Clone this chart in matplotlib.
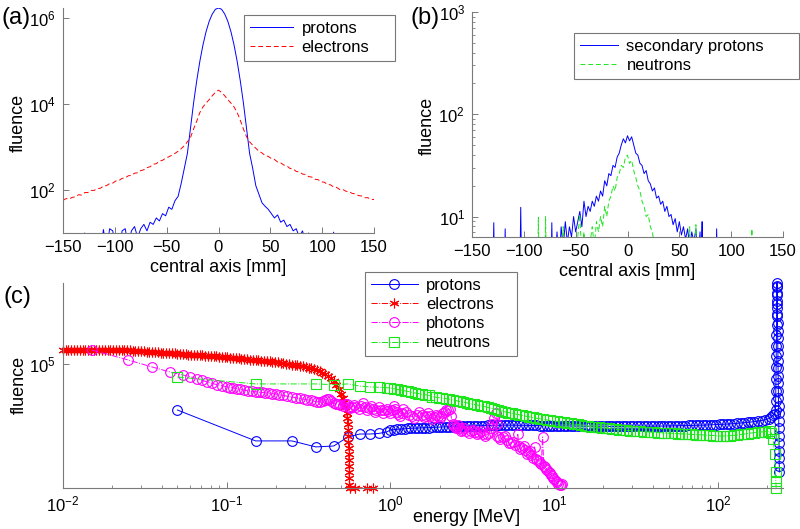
import numpy as np
import matplotlib.pyplot as plt
from matplotlib.ticker import LogLocator, NullLocator, NullFormatter

plt.rcParams['font.family'] = ['Liberation Sans', 'DejaVu Sans']
plt.rcParams['mathtext.fontset'] = 'custom'
plt.rcParams['mathtext.rm'] = 'Liberation Sans'
plt.rcParams['mathtext.default'] = 'regular'

# ---------------- (a) primary protons / electrons along the central axis ----------------
# bin positions [mm]; fluence stored as log10 values
mm_a = np.arange(-150, 151, 3)
protons_a_log = [
    0.5, 0.5, 0.5, 0.5, 0.5, 0.5, 0.5, 1.0, 0.5, 0.5,
    0.5, 0.5, 0.5, 1.08, 0.6, 1.1, 1.05, 0.6, 0.5, 1.05,
    1.1, 0.7, 1.05, 1.15, 0.9, 1.1, 1.2, 1.05, 1.25, 1.2,
    1.35, 1.28, 1.45, 1.4, 1.6, 1.55, 1.75, 1.85, 2.15, 2.5,
    2.85, 3.44, 4.03, 4.54, 4.99, 5.37, 5.68, 5.92, 6.09, 6.2,
    6.23,
    6.2, 6.09, 5.92, 5.68, 5.37, 4.99, 4.54, 4.03, 3.44, 2.85,
    2.5, 2.1, 1.9, 1.7, 1.62, 1.55, 1.45, 1.35, 1.42, 1.25,
    1.3, 1.15, 1.2, 1.05, 1.1, 0.9, 1.05, 0.8, 1.0, 0.6,
    0.5, 0.5, 0.5, 0.5, 0.5, 0.5, 1.02, 0.5, 0.5, 0.5,
    0.5, 0.5, 0.5, 0.5, 0.5, 0.5, 0.5, 0.5, 0.5, 0.5,
]
electrons_a_log = [
    1.76, 1.8, 1.79, 1.83, 1.84, 1.89, 1.88, 1.94, 1.94, 1.99,
    1.99, 2.03, 2.04, 2.09, 2.1, 2.15, 2.16, 2.21, 2.22, 2.27,
    2.28, 2.33, 2.34, 2.39, 2.4, 2.45, 2.47, 2.52, 2.54, 2.6,
    2.61, 2.67, 2.69, 2.74, 2.77, 2.81, 2.85, 2.9, 2.96, 3.03,
    3.12, 3.22, 3.42, 3.6, 3.8, 3.93, 4.02, 4.1, 4.19, 4.27,
    4.32,
    4.27, 4.19, 4.1, 4.02, 3.93, 3.8, 3.62, 3.42, 3.24, 3.12,
    3.04, 2.97, 2.9, 2.86, 2.8, 2.78, 2.73, 2.71, 2.65, 2.63,
    2.58, 2.56, 2.5, 2.49, 2.43, 2.42, 2.37, 2.36, 2.31, 2.3,
    2.25, 2.24, 2.19, 2.18, 2.13, 2.12, 2.07, 2.06, 2.01, 2.01,
    1.97, 1.96, 1.92, 1.91, 1.87, 1.86, 1.82, 1.82, 1.78, 1.78,
]

# ---------------- (b) secondary protons / neutrons ----------------
mm_b_sp = np.arange(-70, 75, 2)
sec_protons_b_log = [
    0.5, 0.85, 0.5, 0.9, 0.7, 0.95, 0.75, 0.9, 0.8, 1.0,
    0.85, 0.95, 1.05, 0.9, 1.15, 1.0, 1.1, 1.05, 1.15, 1.1,
    1.2, 1.15, 1.25, 1.2, 1.35, 1.3, 1.42, 1.4, 1.5, 1.48,
    1.58, 1.62, 1.7, 1.76, 1.72, 1.79, 1.74, 1.78, 1.7, 1.62,
    1.6, 1.52, 1.5, 1.42, 1.45, 1.35, 1.32, 1.25, 1.28, 1.18,
    1.2, 1.12, 1.15, 1.05, 1.1, 1.0, 1.02, 0.92, 0.98, 0.85,
    0.95, 0.82, 0.9, 0.78, 0.88, 0.7, 0.85, 0.75, 0.88, 0.6,
    0.85, 0.5, 0.5,
]
sp_spike_mm = [-129, -118, -103, -73, 72, 86]
sp_spike_log = [0.94, 0.88, 1.09, 0.94, 0.95, 0.88]

mm_b_n = np.arange(-50, 37, 2)
neutrons_b_log = [
    0.5, 0.8, 1.02, 0.6, 0.85, 0.6, 0.8, 0.75, 0.9, 0.7,
    0.95, 0.85, 1.0, 0.9, 1.1, 1.0, 1.15, 1.2, 1.3, 1.25,
    1.38, 1.42, 1.5, 1.48, 1.58, 1.6, 1.52, 1.55, 1.45, 1.38,
    1.3, 1.25, 1.15, 1.1, 1.0, 1.02, 0.9, 0.85, 0.7, 0.78,
    0.6, 0.7, 0.5, 0.5,
]
n_spike_mm = [-86, -79, -62, 60, 66, 120]
n_spike_log = [0.99, 1.0, 0.9, 0.9, 0.92, 0.88]

# ---------------- (c) energy spectra ----------------
e_grid = [1.00, 1.05, 1.10, 1.16, 1.22, 1.28, 1.34, 1.41, 1.48, 1.55,
          1.63, 1.71, 1.80, 1.89, 1.98, 2.08, 2.18, 2.29, 2.41, 2.53,
          2.65, 2.79, 2.93, 3.07, 3.23, 3.39, 3.56, 3.73, 3.92, 4.12,
          4.32, 4.54, 4.76, 5.00, 5.25, 5.52, 5.79, 6.08, 6.39, 6.70,
          7.04, 7.39, 7.76, 8.15, 8.56, 8.99, 9.43, 9.91, 10.4, 10.9,
          11.5, 12.0, 12.6, 13.3, 13.9, 14.6, 15.4, 16.1, 16.9, 17.8,
          18.7, 19.6, 20.6, 21.6, 22.7, 23.8, 25.0, 26.3, 27.6, 29.0,
          30.4, 31.9, 33.5, 35.2, 37.0, 38.8, 40.8, 42.8, 44.9, 47.2,
          49.5, 52.0, 54.6, 57.4, 60.2, 63.2, 66.4, 69.7, 73.2, 76.9,
          80.7, 84.7, 89.0, 93.4, 98.1, 103, 108, 113, 119, 125,
          131, 138, 145, 152, 160, 167, 176, 185, 194, 204,
          212, 218, 222, 225]

protons_e = ([0.05, 0.15, 0.25, 0.35, 0.45, 0.55, 0.65, 0.75, 0.85, 0.95] + e_grid +
             [225.5, 226, 226.5, 227, 227.3, 227.6, 227.9, 228.2, 228.5, 228.8,
              229.1, 229.4, 229.7, 230.0, 230.3, 230.6, 230.9, 231.2, 231.5, 231.8,
              232.1, 232.4, 232.7, 233.0, 233.3, 233.6, 233.9, 234.2, 234.5, 234.8,
              235.1, 235.4, 235.7, 236.0, 236.3, 236.6, 236.9, 237.2, 237.5])
protons_c_log = ([4.693, 4.487, 4.487, 4.447, 4.453, 4.513, 4.533, 4.533, 4.537, 4.547] +
                 [4.560, 4.562, 4.565, 4.566, 4.568, 4.570, 4.571, 4.572, 4.573, 4.574,
                  4.575, 4.575, 4.577, 4.578, 4.579, 4.580, 4.581, 4.582, 4.583, 4.584,
                  4.585, 4.586, 4.586, 4.587, 4.587, 4.588, 4.588, 4.589, 4.590, 4.590,
                  4.590, 4.591, 4.591, 4.592, 4.592, 4.592, 4.592, 4.591, 4.591, 4.591,
                  4.590, 4.590, 4.590, 4.589, 4.589, 4.589, 4.588, 4.588, 4.588, 4.587,
                  4.587, 4.587, 4.586, 4.586, 4.586, 4.586, 4.585, 4.585, 4.585, 4.585,
                  4.585, 4.585, 4.585, 4.584, 4.584, 4.584, 4.584, 4.584, 4.584, 4.584,
                  4.584, 4.585, 4.585, 4.585, 4.585, 4.585, 4.585, 4.586, 4.586, 4.586,
                  4.587, 4.587, 4.588, 4.588, 4.589, 4.589, 4.590, 4.590, 4.591, 4.592,
                  4.592, 4.593, 4.594, 4.595, 4.596, 4.597, 4.598, 4.599, 4.601, 4.602,
                  4.604, 4.606, 4.608, 4.610, 4.613, 4.616, 4.619, 4.623, 4.628, 4.635,
                  4.648, 4.658, 4.668, 4.690] +
                 [4.75, 4.82, 4.9, 4.98, 5.05, 5.12, 5.19, 5.26, 5.33, 5.4,
                  5.46, 5.51, 5.54, 5.52, 5.47, 5.42, 5.37, 5.32, 5.27, 5.22,
                  5.17, 5.12, 5.07, 5.02, 4.97, 4.92, 4.87, 4.82, 4.77, 4.72,
                  4.67, 4.62, 4.57, 4.52, 4.47, 4.42, 4.37, 4.32, 4.28])

electrons_e = [0.0100, 0.0104, 0.0108, 0.0112, 0.0117, 0.0122, 0.0127, 0.0132, 0.0137, 0.0142,
               0.0148, 0.0154, 0.0160, 0.0167, 0.0173, 0.0180, 0.0187, 0.0195, 0.0203, 0.0211,
               0.0219, 0.0228, 0.0237, 0.0247, 0.0256, 0.0267, 0.0277, 0.0288, 0.0300, 0.0312,
               0.0324, 0.0337, 0.0351, 0.0365, 0.0380, 0.0395, 0.0410, 0.0427, 0.0444, 0.0462,
               0.0480, 0.0499, 0.0519, 0.0540, 0.0562, 0.0584, 0.0608, 0.0632, 0.0657, 0.0683,
               0.0711, 0.0739, 0.0769, 0.0800, 0.0832, 0.0865, 0.0900, 0.0936, 0.0973, 0.101,
               0.105, 0.110, 0.114, 0.119, 0.123, 0.128, 0.133, 0.139, 0.144, 0.150,
               0.156, 0.162, 0.169, 0.176, 0.183, 0.190, 0.198, 0.205, 0.214, 0.222,
               0.231, 0.240, 0.250, 0.260, 0.270, 0.281, 0.292, 0.304, 0.316, 0.329,
               0.342, 0.355, 0.370, 0.384, 0.400, 0.416, 0.432, 0.450, 0.468, 0.486,
               0.500, 0.510, 0.520, 0.530, 0.540, 0.545, 0.550, 0.552, 0.553, 0.554,
               0.555, 0.556, 0.557, 0.558, 0.559, 0.560, 0.562, 0.566, 0.610, 0.720, 0.780]
electrons_c_log = [5.093, 5.094, 5.093, 5.094, 5.093, 5.094, 5.093, 5.094, 5.093, 5.094,
                   5.093, 5.094, 5.093, 5.094, 5.093, 5.094, 5.093, 5.094, 5.093, 5.093,
                   5.093, 5.092, 5.092, 5.091, 5.090, 5.089, 5.088, 5.087, 5.085, 5.084,
                   5.083, 5.081, 5.080, 5.079, 5.077, 5.076, 5.075, 5.073, 5.072, 5.071,
                   5.070, 5.068, 5.067, 5.066, 5.064, 5.063, 5.062, 5.060, 5.059, 5.058,
                   5.057, 5.055, 5.054, 5.053, 5.051, 5.050, 5.049, 5.047, 5.046, 5.044,
                   5.042, 5.040, 5.038, 5.037, 5.035, 5.033, 5.031, 5.029, 5.028, 5.026,
                   5.024, 5.022, 5.020, 5.018, 5.017, 5.015, 5.013, 5.011, 5.008, 5.005,
                   5.002, 4.999, 4.996, 4.993, 4.990, 4.987, 4.984, 4.980, 4.975, 4.970,
                   4.964, 4.958, 4.951, 4.943, 4.932, 4.920, 4.905, 4.885, 4.862, 4.835,
                   4.800, 4.775, 4.745, 4.710, 4.670, 4.640, 4.600, 4.560, 4.520, 4.480,
                   4.440, 4.400, 4.360, 4.320, 4.280, 4.240, 4.190, 4.175, 4.175, 4.175, 4.175]

photons_e = [0.015, 0.025, 0.035, 0.045, 0.054, 0.060, 0.066, 0.071, 0.076, 0.081,
             0.087, 0.093, 0.100, 0.105, 0.110, 0.115, 0.120, 0.127, 0.135, 0.142,
             0.150, 0.157, 0.165, 0.172, 0.180, 0.190, 0.200, 0.210, 0.220, 0.235,
             0.250, 0.265, 0.280, 0.295, 0.310, 0.325, 0.340, 0.355, 0.370, 0.385,
             0.400, 0.410, 0.420, 0.435, 0.450, 0.465, 0.480, 0.495, 0.510, 0.525,
             0.540, 0.555, 0.570, 0.585, 0.600, 0.620, 0.640, 0.660, 0.680, 0.700,
             0.720, 0.740, 0.760, 0.780, 0.800, 0.820, 0.850, 0.870, 0.900, 0.920,
             0.950, 0.970, 1.00, 1.02, 1.05, 1.07, 1.10, 1.12, 1.15, 1.17,
             1.20, 1.25, 1.30, 1.35, 1.40, 1.45, 1.50, 1.55, 1.60, 1.65,
             1.70, 1.75, 1.80, 1.85, 1.90, 1.95, 2.00, 2.05, 2.10, 2.15,
             2.20, 2.25, 2.30, 2.35, 2.40, 2.45, 2.50, 2.55, 2.60, 2.65,
             2.70, 2.75, 2.80, 2.90, 3.00, 3.10, 3.20, 3.30, 3.40, 3.50,
             3.60, 3.70, 3.80, 3.90, 4.00, 4.10, 4.20, 4.30, 4.40, 4.45,
             4.50, 4.60, 4.70, 4.85, 5.00, 5.15, 5.30, 5.45, 5.60, 5.80,
             6.00, 6.10, 6.20, 6.35, 6.50, 6.65, 6.80, 6.95, 7.10, 7.25,
             7.40, 7.60, 7.75, 7.90, 8.05, 8.20, 8.35, 8.50, 8.65, 8.80,
             8.95, 9.10, 9.25, 9.40, 9.55, 9.70, 9.85, 10.0, 10.2, 10.4,
             10.6, 10.8, 11.0, 11.2]
photons_c_log = [5.093, 5.027, 4.980, 4.947, 4.927, 4.915, 4.900, 4.890, 4.880, 4.872,
                 4.862, 4.855, 4.847, 4.843, 4.840, 4.835, 4.830, 4.826, 4.822, 4.818,
                 4.815, 4.812, 4.810, 4.807, 4.805, 4.802, 4.800, 4.795, 4.790, 4.785,
                 4.780, 4.775, 4.770, 4.766, 4.762, 4.757, 4.752, 4.748, 4.745, 4.750,
                 4.760, 4.765, 4.768, 4.750, 4.740, 4.735, 4.730, 4.726, 4.722, 4.730,
                 4.735, 4.715, 4.705, 4.715, 4.725, 4.710, 4.700, 4.720, 4.740, 4.710,
                 4.690, 4.705, 4.720, 4.700, 4.680, 4.695, 4.710, 4.690, 4.675, 4.690,
                 4.700, 4.685, 4.670, 4.690, 4.720, 4.700, 4.680, 4.665, 4.650, 4.675,
                 4.700, 4.680, 4.660, 4.650, 4.640, 4.660, 4.680, 4.660, 4.645, 4.655,
                 4.670, 4.650, 4.630, 4.645, 4.660, 4.650, 4.640, 4.655, 4.670, 4.680,
                 4.690, 4.695, 4.700, 4.650, 4.600, 4.585, 4.570, 4.580, 4.590, 4.570,
                 4.550, 4.560, 4.570, 4.555, 4.540, 4.550, 4.560, 4.545, 4.530, 4.540,
                 4.550, 4.535, 4.520, 4.530, 4.540, 4.570, 4.600, 4.640, 4.670, 4.600,
                 4.520, 4.510, 4.500, 4.510, 4.520, 4.495, 4.470, 4.475, 4.480, 4.460,
                 4.530, 4.450, 4.430, 4.440, 4.450, 4.425, 4.400, 4.410, 4.420, 4.395,
                 4.370, 4.447, 4.365, 4.360, 4.350, 4.340, 4.330, 4.513, 4.320, 4.310,
                 4.300, 4.290, 4.280, 4.270, 4.260, 4.250, 4.240, 4.230, 4.220, 4.210,
                 4.200, 4.190, 4.195, 4.200]

neutrons_e = [0.05, 0.15, 0.35, 0.45, 0.55, 0.65, 0.75, 0.85, 0.95] + e_grid + [226, 227]
neutrons_c_log = ([4.913, 4.867, 4.867, 4.862, 4.867, 4.853, 4.847, 4.845, 4.842] +
                  [4.840, 4.835, 4.830, 4.826, 4.821, 4.817, 4.812, 4.807, 4.803, 4.799,
                   4.795, 4.791, 4.783, 4.779, 4.775, 4.772, 4.769, 4.765, 4.760, 4.755,
                   4.750, 4.746, 4.741, 4.736, 4.731, 4.727, 4.722, 4.717, 4.711, 4.705,
                   4.700, 4.694, 4.688, 4.681, 4.676, 4.671, 4.667, 4.662, 4.657, 4.652,
                   4.648, 4.644, 4.639, 4.635, 4.631, 4.627, 4.624, 4.620, 4.617, 4.614,
                   4.611, 4.608, 4.604, 4.600, 4.597, 4.593, 4.589, 4.586, 4.583, 4.580,
                   4.577, 4.574, 4.572, 4.570, 4.567, 4.564, 4.562, 4.560, 4.558, 4.556,
                   4.554, 4.552, 4.551, 4.549, 4.547, 4.546, 4.544, 4.543, 4.542, 4.540,
                   4.539, 4.538, 4.537, 4.535, 4.534, 4.533, 4.532, 4.530, 4.529, 4.528,
                   4.527, 4.526, 4.524, 4.523, 4.521, 4.520, 4.520, 4.520, 4.522, 4.524,
                   4.526, 4.530, 4.533, 4.536, 4.540, 4.542, 4.545, 4.547, 4.549, 4.550,
                   4.540, 4.500, 4.400, 4.280] +
                  [4.220, 4.175])


def with_spikes(x_core, v_core, x_spk, v_spk, floor=0.3):
    # isolated histogram bins: empty bins on either side sit below the axis
    xs = list(x_core)
    vs = list(v_core)
    for p, h in zip(x_spk, v_spk):
        xs += [p - 1, p, p + 1]
        vs += [floor, h, floor]
    order = np.argsort(xs)
    return np.array(xs)[order], np.array(vs)[order]


W, H = 800, 529
fig = plt.figure(figsize=(W / 100, H / 100), dpi=100)


def fx(x):
    return x / W


def fy(y):
    return 1 - y / H


GREY = '#7a7a7a'
BLUE = (0, 0, 1)
RED = (1, 0, 0)
MAGENTA = (1, 0, 1)
GREEN = (0.1, 0.9, 0.1)


def style(ax):
    for s in ('top', 'right'):
        ax.spines[s].set_visible(False)
    for s in ('left', 'bottom'):
        ax.spines[s].set_color(GREY)
        ax.spines[s].set_linewidth(0.8)
    ax.tick_params(which='both', direction='in', color=GREY, labelsize=12,
                   labelcolor='black', pad=5)
    ax.tick_params(which='major', length=4, width=0.7)
    ax.tick_params(which='minor', length=2.5, width=0.6)


def legend(ax, x0, y0, x1, y1, **kw):
    # legend box given in pixel corners (left, top, right, bottom)
    lg = ax.legend(loc='upper left',
                   bbox_to_anchor=(fx(x0), fy(y1), fx(x1 - x0), (y1 - y0) / H),
                   bbox_transform=fig.transFigure, borderaxespad=0, mode='expand',
                   fancybox=False, fontsize=12, labelspacing=0.25,
                   borderpad=0.35, handletextpad=0.5, **kw)
    lg.get_frame().set_edgecolor('#555555')
    lg.get_frame().set_linewidth(0.8)
    return lg


# --- panel (a) ---
ax_a = fig.add_axes([fx(63), fy(233), fx(311), 225 / H])
ax_a.semilogy(mm_a, 10 ** np.array(protons_a_log), color=BLUE, lw=0.7, label='protons')
ax_a.semilogy(mm_a, 10 ** np.array(electrons_a_log), color=RED, lw=0.7,
              ls='--', dashes=(5, 3), label='electrons')
ax_a.set_xlim(-150, 150)
ax_a.set_ylim(10, 10 ** 6.23)
ax_a.set_xticks([-150, -100, -50, 0, 50, 100, 150])
ax_a.set_yticks([1e2, 1e4, 1e6])
ax_a.yaxis.set_minor_locator(NullLocator())
style(ax_a)
legend(ax_a, 244, 15, 395, 64, handlelength=2.6)

# --- panel (b) ---
ax_b = fig.add_axes([fx(472), fy(237), fx(311), 225 / H])
xb, vb = with_spikes(mm_b_sp, sec_protons_b_log, sp_spike_mm, sp_spike_log)
xn, vn = with_spikes(mm_b_n, neutrons_b_log, n_spike_mm, n_spike_log)
ax_b.semilogy(xb, 10 ** vb, color=BLUE, lw=0.7, label='secondary protons')
ax_b.semilogy(xn, 10 ** vn, color=GREEN, lw=0.7, ls='--', dashes=(5, 3),
              label='neutrons')
ax_b.set_xlim(-150, 150)
ax_b.set_ylim(10 ** 0.8, 1e3)
ax_b.set_xticks([-150, -100, -50, 0, 50, 100, 150])
ax_b.set_yticks([1e1, 1e2, 1e3])
ax_b.yaxis.set_minor_locator(LogLocator(base=10, subs=np.arange(2, 10)))
ax_b.yaxis.set_minor_formatter(NullFormatter())
style(ax_b)
legend(ax_b, 574, 33, 799, 71, handlelength=2.3)

# --- panel (c) ---
ax_c = fig.add_axes([fx(63), fy(488), fx(720), 205 / H])
mk = dict(ms=7, mew=0.8, lw=0.7, clip_on=False)
ax_c.loglog(protons_e, 10 ** np.array(protons_c_log), color=BLUE, ls='-',
            marker='o', mfc='none', label='protons', **mk)
ax_c.loglog(electrons_e, 10 ** np.array(electrons_c_log), color=RED, ls='-.',
            marker=(6, 2, 0), label='electrons', **mk)
ax_c.loglog(photons_e, 10 ** np.array(photons_c_log), color=MAGENTA, ls='-.',
            marker='o', mfc='none', label='photons', **mk)
ax_c.loglog(neutrons_e, 10 ** np.array(neutrons_c_log), color=GREEN, ls='-.',
            marker='s', mfc='none', label='neutrons', **mk)
ax_c.set_xlim(0.01, 250)
ax_c.set_ylim(10 ** 4.173, 10 ** 5.54)
ax_c.set_xticks([1e-2, 1e-1, 1e0, 1e1, 1e2])
ax_c.xaxis.set_minor_locator(LogLocator(base=10, subs=np.arange(2, 10)))
ax_c.xaxis.set_minor_formatter(NullFormatter())
ax_c.set_yticks([1e5])
ax_c.yaxis.set_minor_locator(NullLocator())
style(ax_c)
legend(ax_c, 365, 272, 517, 365, handlelength=2.8)

# --- labels ---
lab = dict(fontsize=13, ha='center', va='center')
fig.text(fx(18), fy(123), 'fluence', rotation=90, **lab)
fig.text(fx(218), fy(267), 'central axis [mm]', **lab)
fig.text(fx(427), fy(126), 'fluence', rotation=90, **lab)
fig.text(fx(627), fy(272), 'central axis [mm]', **lab)
fig.text(fx(19), fy(385), 'fluence', rotation=90, **lab)
fig.text(fx(467), fy(517), 'energy [MeV]', **lab)

pan = dict(fontsize=17, ha='center', va='center')
fig.text(fx(16), fy(18), '(a)', **pan)
fig.text(fx(425), fy(18), '(b)', **pan)
fig.text(fx(17), fy(297), '(c)', **pan)

fig.savefig('out.png', dpi=100)
